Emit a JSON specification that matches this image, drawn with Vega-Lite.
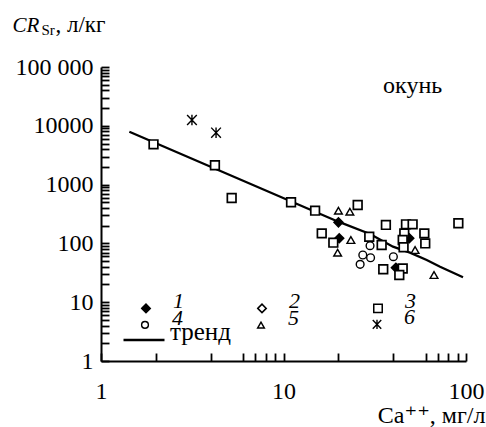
{
  "$schema": "https://vega.github.io/schema/vega-lite/v6.json",
  "width": 365,
  "height": 294,
  "autosize": {"type": "none"},
  "padding": {"left": 101, "top": 67, "right": 20, "bottom": 66},
  "background": "white",
  "config": {
    "view": {"stroke": null},
    "font": "Liberation Serif, Times New Roman, DejaVu Serif, serif",
    "axis": {"domainColor": "black", "tickColor": "black", "labelColor": "black", "titleColor": "black", "grid": false},
    "legend": {"labelFont": "Liberation Serif, Times New Roman, DejaVu Serif, serif"}
  },
  "datasets": {
    "points": [
      {"ca": 20, "cr": 228, "type": "1"},
      {"ca": 20.2, "cr": 122, "type": "1"},
      {"ca": 48.9, "cr": 122, "type": "1"},
      {"ca": 41.3, "cr": 38.6, "type": "1"},
      {"ca": 1.94, "cr": 4840, "type": "3"},
      {"ca": 4.21, "cr": 2130, "type": "3"},
      {"ca": 5.2, "cr": 592, "type": "3"},
      {"ca": 11.0, "cr": 500, "type": "3"},
      {"ca": 14.9, "cr": 360, "type": "3"},
      {"ca": 25.5, "cr": 450, "type": "3"},
      {"ca": 16.2, "cr": 148, "type": "3"},
      {"ca": 18.75, "cr": 103, "type": "3"},
      {"ca": 29.5, "cr": 130, "type": "3"},
      {"ca": 36.4, "cr": 206, "type": "3"},
      {"ca": 46.9, "cr": 211, "type": "3"},
      {"ca": 51, "cr": 211, "type": "3"},
      {"ca": 90.8, "cr": 220, "type": "3"},
      {"ca": 59.1, "cr": 148, "type": "3"},
      {"ca": 45.9, "cr": 148, "type": "3"},
      {"ca": 45, "cr": 114, "type": "3"},
      {"ca": 59.8, "cr": 100, "type": "3"},
      {"ca": 34.5, "cr": 94, "type": "3"},
      {"ca": 45.5, "cr": 86, "type": "3"},
      {"ca": 35.2, "cr": 36.3, "type": "3"},
      {"ca": 45, "cr": 37.5, "type": "3"},
      {"ca": 43.1, "cr": 29, "type": "3"},
      {"ca": 29.8, "cr": 91.4, "type": "4"},
      {"ca": 27.2, "cr": 63.5, "type": "4"},
      {"ca": 30.0, "cr": 57.1, "type": "4"},
      {"ca": 26.3, "cr": 44.1, "type": "4"},
      {"ca": 40.0, "cr": 59.4, "type": "4"},
      {"ca": 20, "cr": 360, "type": "5"},
      {"ca": 23.1, "cr": 346, "type": "5"},
      {"ca": 23.4, "cr": 114, "type": "5"},
      {"ca": 19.8, "cr": 69.5, "type": "5"},
      {"ca": 52.6, "cr": 77.3, "type": "5"},
      {"ca": 66.8, "cr": 29, "type": "5"},
      {"ca": 3.15, "cr": 12560, "type": "6"},
      {"ca": 4.27, "cr": 7640, "type": "6"}
    ],
    "trend": [
      {"ca": 1.43, "cr": 7940},
      {"ca": 19.97, "cr": 234},
      {"ca": 29.8, "cr": 144.5},
      {"ca": 39.8, "cr": 87.9},
      {"ca": 49.3, "cr": 69.5},
      {"ca": 60.9, "cr": 52.2},
      {"ca": 72.1, "cr": 40.2},
      {"ca": 96.3, "cr": 26.5}
    ],
    "labels": [{"label": "окунь"}]
  },
  "layer": [
    {
      "data": {"name": "trend"},
      "mark": {"type": "line", "strokeWidth": 2.3},
      "encoding": {
        "x": {
          "field": "ca", "type": "quantitative",
          "scale": {"type": "log", "domain": [1, 100], "nice": false},
          "axis": {"orient": "top", "labels": false, "ticks": false, "domain": false, "title": ", л/кг", "titleX": -46, "titleY": -36, "titleAlign": "left", "titleBaseline": "alphabetic", "titleFontSize": 23, "titleFontWeight": "normal", "titleAngle": 0}
        },
        "y": {
          "field": "cr", "type": "quantitative",
          "scale": {"type": "log", "domain": [1, 100000], "nice": false},
          "axis": {"orient": "right", "labels": false, "ticks": false, "domain": false, "title": "Sr", "titleX": -425, "titleY": -33, "titleAlign": "left", "titleBaseline": "alphabetic", "titleFontSize": 15, "titleFontWeight": "normal", "titleAngle": 0}
        },
        "color": {
          "datum": "тренд",
          "scale": {"range": ["black"]},
          "legend": {"title": null, "orient": "none", "legendX": 21, "legendY": 251, "symbolType": "stroke", "symbolSize": 1681, "symbolStrokeWidth": 2.5, "labelFontSize": 25, "labelOffset": 4, "labelBaseline": "alphabetic", "labelColor": "black", "padding": 0}
        }
      }
    },
    {
      "data": {"name": "points"},
      "transform": [{"filter": {"field": "type", "oneOf": ["1", "2", "3"]}}],
      "mark": {"type": "point", "strokeWidth": 1.7, "opacity": 1, "fillOpacity": 1, "size": 75},
      "encoding": {
        "x": {
          "field": "ca", "type": "quantitative",
          "scale": {"type": "log", "domain": [1, 100], "nice": false},
          "axis": {
            "orient": "bottom", "values": [1, 2, 4, 6, 7, 8, 9, 10, 20, 40, 60, 70, 80, 90, 100],
            "format": "d", "labelExpr": "indexof([1,10,100], datum.value) >= 0 ? datum.label : ''",
            "labelOverlap": false, "labelFlush": false, "tickSize": -8, "tickWidth": 1.8, "domainWidth": 2,
            "labelFontSize": 24, "labelPadding": 45, "labelBaseline": "alphabetic",
            "title": "Ca⁺⁺, мг/л", "titleX": 384, "titleY": 61, "titleAlign": "right", "titleBaseline": "alphabetic", "titleFontSize": 24, "titleFontWeight": "normal"
          }
        },
        "y": {
          "field": "cr", "type": "quantitative",
          "scale": {"type": "log", "domain": [1, 100000], "nice": false},
          "axis": {
            "orient": "left",
            "values": [1, 2, 3, 4, 5, 6, 7, 8, 9, 10, 20, 30, 40, 50, 60, 70, 80, 90, 100, 200, 300, 400, 500, 600, 700, 800, 900, 1000, 2000, 3000, 4000, 5000, 6000, 7000, 8000, 9000, 10000, 20000, 30000, 40000, 50000, 60000, 70000, 80000, 90000, 100000],
            "format": "d", "labelExpr": "datum.value == 100000 ? '100 000' : (indexof([1,10,100,1000,10000], datum.value) >= 0 ? datum.label : '')",
            "labelOverlap": false, "labelFlush": false, "tickSize": -8, "tickWidth": 1.8, "domainWidth": 2,
            "labelFontSize": 24, "labelPadding": 16,
            "title": "CR", "titleX": -89, "titleY": -36, "titleAlign": "left", "titleBaseline": "alphabetic", "titleAngle": 0, "titleFontSize": 21, "titleFontStyle": "italic", "titleFontWeight": "normal"
          }
        },
        "shape": {
          "field": "type", "type": "nominal",
          "scale": {"domain": ["1", "2", "3"], "range": ["diamond", "diamond", "square"]},
          "legend": {"title": null, "orient": "none", "direction": "horizontal", "legendX": 34, "legendY": 230, "columns": 3, "columnPadding": 67, "labelFontSize": 22, "labelFontStyle": "italic", "labelOffset": 16, "labelBaseline": "alphabetic", "symbolSize": 72, "symbolStrokeWidth": 1.5, "labelColor": "black"}
        },
        "fill": {
          "field": "type", "type": "nominal",
          "scale": {"domain": ["1", "2", "3"], "range": ["black", "white", "white"]}
        },
        "stroke": {
          "field": "type", "type": "nominal",
          "scale": {"domain": ["1", "2", "3"], "range": ["black", "black", "black"]}
        }
      }
    },
    {
      "data": {"name": "points"},
      "transform": [{"filter": {"field": "type", "oneOf": ["4", "5", "6"]}}],
      "mark": {"type": "point", "strokeWidth": 1.4, "opacity": 1, "fillOpacity": 1, "size": 60},
      "encoding": {
        "x": {"field": "ca", "type": "quantitative", "axis": null},
        "y": {"field": "cr", "type": "quantitative", "axis": null},
        "shape": {
          "field": "type", "type": "nominal",
          "scale": {"domain": ["4", "5", "6"], "range": ["circle", "triangle-up", "M-1.25,-1.3L1.25,1.3M1.25,-1.3L-1.25,1.3M0,-1.35L0,1.35"]},
          "legend": {"title": null, "orient": "none", "direction": "horizontal", "legendX": 33, "legendY": 246, "columns": 3, "columnPadding": 67, "labelFontSize": 22, "labelFontStyle": "italic", "labelOffset": 16, "labelBaseline": "alphabetic", "symbolSize": 46, "symbolStrokeWidth": 1.4, "labelColor": "black"}
        },
        "fill": {
          "field": "type", "type": "nominal",
          "scale": {"domain": ["4", "5", "6"], "range": ["white", "white", "white"]}
        },
        "stroke": {
          "field": "type", "type": "nominal",
          "scale": {"domain": ["4", "5", "6"], "range": ["black", "black", "black"]}
        }
      }
    },
    {
      "data": {"name": "labels"},
      "mark": {"type": "text", "fontSize": 24, "align": "center", "baseline": "alphabetic", "color": "black"},
      "encoding": {
        "x": {"datum": 51, "type": "quantitative", "axis": null},
        "y": {"datum": 36000, "type": "quantitative", "axis": null},
        "text": {"field": "label"}
      }
    }
  ],
  "resolve": {
    "axis": {"x": "independent", "y": "independent"},
    "scale": {"shape": "independent", "fill": "independent", "stroke": "independent"},
    "legend": {"shape": "independent", "fill": "independent", "stroke": "independent"}
  }
}
